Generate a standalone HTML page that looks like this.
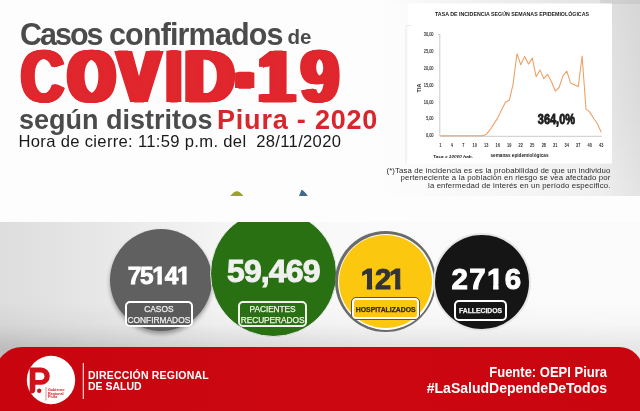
<!DOCTYPE html>
<html><head><meta charset="utf-8">
<style>
*{margin:0;padding:0;box-sizing:border-box}
html,body{width:640px;height:411px;overflow:hidden;background:#fdfdfd}
body{position:relative;font-family:"Liberation Sans",sans-serif}
.abs{position:absolute}
#chartbg{left:380px;top:0;width:260px;height:196px;background:linear-gradient(90deg,#fdfdfd 0%,#f7f7f7 45%,#efefef 85%,#e3e3e3 100%)}
#chartbg3{left:600px;top:0;width:40px;height:196px;background:linear-gradient(180deg,rgba(0,0,0,0.06) 0%,rgba(0,0,0,0.03) 60%,rgba(0,0,0,0) 100%)}
#chartbg2{left:380px;top:0;width:260px;height:4px;background:linear-gradient(90deg,rgba(0,0,0,0),rgba(0,0,0,0.04) 50%,rgba(0,0,0,0.06))}
.t{white-space:nowrap;line-height:1}
.h1{left:20px;top:19px;font-weight:bold;color:#4b4b4b;font-size:30.5px;letter-spacing:-2px}
.de{left:287.5px;top:27px;font-weight:bold;color:#4b4b4b;font-size:20.5px}
.covid{left:0;top:39.8px;width:400px;height:70px}
.cv{position:absolute;top:0;font-weight:bold;color:#e0272d;font-size:73.5px;line-height:1;-webkit-text-stroke:1px #e0272d;transform-origin:0 0;white-space:nowrap}
.seg{top:107px;font-weight:bold;color:#4b4b4b;font-size:27px}
.red2{color:#d9262c}
.hora{left:18.5px;top:134px;color:#1a1a1a;font-size:16.6px;letter-spacing:0.32px}
.foot{left:370px;top:167px;width:240.5px;text-align:right;font-size:7.8px;line-height:7.3px;letter-spacing:0.13px;color:#2a2a2a}
/* lower */
#lower{left:0;top:222px;width:640px;height:140px;overflow:hidden}
#band{left:0;top:0;width:640px;height:140px;background:linear-gradient(90deg,#dddddd 0%,#e9e9e9 18%,#f5f5f5 35%,#fafafa 60%,#fbfbfb 100%)}
#band2{left:0;top:80px;width:640px;height:60px;background:linear-gradient(180deg,rgba(0,0,0,0) 0%,rgba(0,0,0,0.03) 37%,rgba(0,0,0,0.14) 75%,rgba(0,0,0,0.14) 100%);-webkit-mask-image:linear-gradient(90deg,#000 0%,rgba(0,0,0,0.75) 50%,rgba(0,0,0,0.55) 100%)}
.circ{border-radius:50%}
.num{position:absolute;left:0;width:100%;text-align:center;font-weight:bold;color:#fff;white-space:nowrap;line-height:1}
.lab{position:absolute;border:2px solid #fff;border-radius:5px;color:#fff;font-size:8.5px;text-align:center;line-height:10px;white-space:nowrap;-webkit-text-stroke:0.25px currentColor}
#red{left:-5px;top:347px;width:648px;height:70px;background:linear-gradient(90deg,#c8050f 0%,#cc0711 50%,#c9050f 100%);border-radius:27px 24px 0 0}
.n1{display:inline-block;clip-path:polygon(0 0,100% 0,100% 0.69em,0.39em 0.69em,0.39em 100%,0.21em 100%,0.21em 0.69em,0 0.69em)}
.ftxt{color:#fff;font-weight:bold;white-space:nowrap;line-height:1}
</style></head><body>
<div id="chartbg" class="abs"></div>
<div id="chartbg2" class="abs"></div>
<div id="chartbg3" class="abs"></div>

<div class="abs t h1">Casos</div>
<div class="abs t h1" style="left:109px;letter-spacing:-0.85px">confirmados</div>
<div class="abs t de">de</div>
<div class="abs covid">
<span class="cv" style="left:21.30px;transform:scaleX(0.8056);text-shadow:0.88px 0 0 #e0272d,1.75px 0 0 #e0272d,2.62px 0 0 #e0272d,3.50px 0 0 #e0272d,-0.88px 0 0 #e0272d,-1.75px 0 0 #e0272d,-2.62px 0 0 #e0272d,-3.50px 0 0 #e0272d">C</span>
<span class="cv" style="left:68.67px;transform:scaleX(0.7889);text-shadow:1.00px 0 0 #e0272d,2.00px 0 0 #e0272d,3.00px 0 0 #e0272d,4.00px 0 0 #e0272d,5.00px 0 0 #e0272d,6.00px 0 0 #e0272d,-1.00px 0 0 #e0272d,-2.00px 0 0 #e0272d,-3.00px 0 0 #e0272d,-4.00px 0 0 #e0272d,-5.00px 0 0 #e0272d,-6.00px 0 0 #e0272d">O</span>
<span class="cv" style="left:118.22px;transform:scaleX(0.8544);text-shadow:1.00px 0 0 #e0272d,2.00px 0 0 #e0272d,3.00px 0 0 #e0272d,4.00px 0 0 #e0272d,5.00px 0 0 #e0272d,-1.00px 0 0 #e0272d,-2.00px 0 0 #e0272d,-3.00px 0 0 #e0272d,-4.00px 0 0 #e0272d,-5.00px 0 0 #e0272d">V</span>
<span class="cv" style="left:166.97px;transform:scaleX(0.6682);text-shadow:1.00px 0 0 #e0272d,2.00px 0 0 #e0272d,3.00px 0 0 #e0272d,4.00px 0 0 #e0272d,5.00px 0 0 #e0272d,6.00px 0 0 #e0272d,-1.00px 0 0 #e0272d,-2.00px 0 0 #e0272d,-3.00px 0 0 #e0272d,-4.00px 0 0 #e0272d,-5.00px 0 0 #e0272d,-6.00px 0 0 #e0272d">I</span>
<span class="cv" style="left:185.00px;transform:scaleX(0.9185);text-shadow:0.90px 0 0 #e0272d,1.80px 0 0 #e0272d,2.70px 0 0 #e0272d,3.60px 0 0 #e0272d,4.50px 0 0 #e0272d,-0.90px 0 0 #e0272d,-1.80px 0 0 #e0272d,-2.70px 0 0 #e0272d,-3.60px 0 0 #e0272d,-4.50px 0 0 #e0272d">D</span>
<span class="cv" style="left:237.30px;top:-32.9px;transform:scale(0.6323,1.73);text-shadow:1.00px 0 0 #e0272d,2.00px 0 0 #e0272d,3.00px 0 0 #e0272d,4.00px 0 0 #e0272d,5.00px 0 0 #e0272d,6.00px 0 0 #e0272d,-1.00px 0 0 #e0272d,-2.00px 0 0 #e0272d,-3.00px 0 0 #e0272d,-4.00px 0 0 #e0272d,-5.00px 0 0 #e0272d,-6.00px 0 0 #e0272d">-</span>
<span class="cv" style="left:258.70px;transform:scaleX(0.8568);text-shadow:1.00px 0 0 #e0272d,2.00px 0 0 #e0272d,3.00px 0 0 #e0272d,4.00px 0 0 #e0272d,5.00px 0 0 #e0272d,-1.00px 0 0 #e0272d,-2.00px 0 0 #e0272d,-3.00px 0 0 #e0272d,-4.00px 0 0 #e0272d,-5.00px 0 0 #e0272d">1</span>
<span class="cv" style="left:300.73px;transform:scaleX(0.9279);text-shadow:0.88px 0 0 #e0272d,1.75px 0 0 #e0272d,2.62px 0 0 #e0272d,3.50px 0 0 #e0272d,-0.88px 0 0 #e0272d,-1.75px 0 0 #e0272d,-2.62px 0 0 #e0272d,-3.50px 0 0 #e0272d">9</span>
</div>
<div class="abs t seg" style="left:19px">según distritos</div>
<div class="abs t seg red2" style="left:217px;letter-spacing:0.8px">Piura - 2020</div>
<div class="abs t hora">Hora de cierre: 11:59 p.m. del&nbsp; 28/11/2020</div>

<svg class="abs" style="left:0;top:0" width="640" height="222" viewBox="0 0 640 222">
<rect x="408.5" y="3.5" width="203.5" height="160" fill="#fff"/>
<path d="M406 163 V25.5 H412" fill="none" stroke="#ebebeb" stroke-width="1"/>
<text x="512" y="16" font-family="'Liberation Sans', sans-serif" font-weight="bold" font-size="5.3" fill="#1a1a1a" text-anchor="middle" textLength="154" lengthAdjust="spacingAndGlyphs">TASA DE INCIDENCIA SEGÚN SEMANAS EPIDEMIOLÓGICAS</text>
<g font-family="'Liberation Sans', sans-serif" font-size="4.6" fill="#3a3a3a" text-anchor="end" stroke="#3a3a3a" stroke-width="0.15" transform="translate(433.5 0) scale(0.85 1) translate(-433.5 0)"><text x="433.5" y="137.4">0,00</text><text x="433.5" y="120.5">5,00</text><text x="433.5" y="103.6">10,00</text><text x="433.5" y="86.7">15,00</text><text x="433.5" y="69.8">20,00</text><text x="433.5" y="52.9">25,00</text><text x="433.5" y="36.0">30,00</text></g>
<line x1="439.8" y1="34" x2="439.8" y2="136" stroke="#bdbdbd" stroke-width="0.8"/>
<line x1="438" y1="34.5" x2="439.8" y2="34.5" stroke="#bdbdbd" stroke-width="0.6"/>
<line x1="439.8" y1="136.3" x2="602" y2="136.3" stroke="#c4c4c4" stroke-width="0.9"/>
<g font-family="'Liberation Sans', sans-serif" font-weight="bold" font-size="4.9" fill="#333" text-anchor="middle" transform="scale(0.8 1)"><text x="550.38" y="147.2">1</text><text x="564.75" y="147.2">4</text><text x="579.12" y="147.2">7</text><text x="593.50" y="147.2">10</text><text x="607.88" y="147.2">13</text><text x="622.25" y="147.2">16</text><text x="636.62" y="147.2">19</text><text x="651.00" y="147.2">22</text><text x="665.37" y="147.2">25</text><text x="679.75" y="147.2">28</text><text x="694.12" y="147.2">31</text><text x="708.50" y="147.2">34</text><text x="722.87" y="147.2">37</text><text x="737.25" y="147.2">40</text><text x="751.62" y="147.2">43</text></g>
<text transform="translate(421,88) rotate(-90)" font-family="'Liberation Sans', sans-serif" font-weight="bold" font-size="5.5" fill="#222" text-anchor="middle">TIA</text>
<text x="433" y="158" font-family="'Liberation Sans', sans-serif" font-weight="bold" font-style="italic" font-size="4.3" fill="#222" textLength="40" lengthAdjust="spacingAndGlyphs">Tasa x 10000 hab.</text>
<text x="490.5" y="156.8" font-family="'Liberation Sans', sans-serif" font-weight="bold" font-size="5" fill="#222" textLength="58" lengthAdjust="spacingAndGlyphs">semanas epidemiológicas</text>
<polyline fill="none" stroke="#ee9e62" stroke-width="1.05" stroke-linejoin="round" points="440.3,135.8 444.1,135.8 448.0,135.8 451.8,135.8 455.6,135.8 459.5,135.8 463.3,135.8 467.1,135.8 471.0,135.8 474.8,135.8 478.6,135.8 482.5,135.8 486.3,134.4 490.1,129.7 494.0,123.6 497.8,117.9 501.6,109.8 505.5,102.3 509.3,100.3 513.1,84.1 517.0,53.7 520.8,64.8 524.6,56.4 528.5,64.1 532.3,58.1 536.1,76.7 540.0,69.9 543.8,78.7 547.6,74.3 551.5,81.7 555.3,91.2 559.1,87.5 563.0,75.6 566.8,71.2 570.6,83.1 574.5,84.8 578.3,86.5 582.1,56.0 586.0,109.1 589.8,112.1 593.6,118.2 597.5,124.0 601.3,132.4"/>
<text x="537.8" y="124" font-family="'Liberation Sans', sans-serif" font-weight="bold" font-size="14" fill="#1e1e1e" textLength="37.2" lengthAdjust="spacingAndGlyphs" stroke="#1e1e1e" stroke-width="0.9">364,0%</text>
</svg>
<svg class="abs" style="left:225px;top:185px" width="90" height="15" viewBox="225 185 90 15"><path d="M230.2,196 Q234,191.5 236.8,191.3 Q240,191.5 243.4,196 Z" fill="#9ba12a"/><path d="M299,196 L301.5,189.8 Q303.5,190 307.8,196 Z" fill="#3f6a8c"/></svg>
<div class="abs t foot">(*)Tasa de incidencia es es la probabilidad de que un individuo<br>perteneciente a la población en riesgo se vea afectado por<br>la enfermedad de interés en un período específico.</div>

<div id="lower" class="abs">
<div id="band" class="abs"></div>
<div id="band2" class="abs"></div>

<div class="abs circ" style="left:109.5px;top:6.5px;width:102px;height:102px;background:#606060;box-shadow:0 3px 4px rgba(0,0,0,0.35)"></div>
<div class="abs num" style="left:107.5px;width:102px;top:42px;font-size:24.5px;letter-spacing:-1.3px;-webkit-text-stroke:0.8px #fff">75<span class="n1">1</span>4<span class="n1">1</span></div>
<div class="abs lab" style="left:124.7px;top:79.4px;width:68.3px;height:26px;background:#5a5a5a;padding-top:0.5px;color:#eee;font-size:8.4px;line-height:11px">CASOS<br>CONFIRMADOS</div>

<div class="abs circ" style="left:209.8px;top:-12px;width:127px;height:127px;background:#287012;border:1.5px solid #e4e4e4"></div>
<div class="abs num" style="left:209.8px;width:127px;top:33px;font-size:32px;letter-spacing:-0.9px;color:#f0f0f0;-webkit-text-stroke:1px #f0f0f0">59,469</div>
<div class="abs lab" style="left:238.2px;top:78.9px;width:68.8px;height:26.5px;padding-top:1.3px;color:#f2f2ea;border-color:#f2f2ea;font-size:8.4px;line-height:11px;letter-spacing:-0.1px">PACIENTES<br>RECUPERADOS</div>

<div class="abs circ" style="left:335px;top:9px;width:101px;height:101px;background:#6b6b6b"></div>
<div class="abs circ" style="left:337.5px;top:11.5px;width:96px;height:96px;background:#fff"></div>
<div class="abs circ" style="left:338.6px;top:12.6px;width:93.8px;height:93.8px;background:#fcc80f"></div>
<div class="abs num" style="left:331.5px;width:101px;top:43px;font-size:29px;letter-spacing:-2px;color:#333;-webkit-text-stroke:1px #333"><span class="n1">1</span>2<span class="n1">1</span></div>
<div class="abs lab" style="left:351.4px;top:75.4px;width:68.6px;height:22.2px;border:1.8px solid #555;box-shadow:inset 0 0 0 2px #fff;background:#fcc80f;color:#2a2a2a;font-size:6.9px;letter-spacing:-0.05px;line-height:18.6px;padding-top:2.8px;font-weight:bold">HOSPITALIZADOS</div>

<div class="abs circ" style="left:433.3px;top:10.6px;width:98px;height:98px;background:#151515;border:2px solid #e6e6e6"></div>
<div class="abs num" style="left:438px;width:98px;top:42px;font-size:29.5px;letter-spacing:1.3px;-webkit-text-stroke:1px #fff">27<span class="n1">1</span>6</div>
<div class="abs lab" style="left:454px;top:78.3px;width:53px;height:21px;font-size:6.8px;line-height:17px;font-weight:bold;color:#f4f4f4;border-width:2px">FALLECIDOS</div>
</div>

<div id="red" class="abs"></div>
<!-- logo -->
<svg class="abs" style="left:0;top:347px" width="640" height="64" viewBox="0 347 640 64">
<circle cx="51" cy="380" r="24.2" fill="#fff"/>
<path d="M29.7,367.6 H41.2 A8.55,8.55 0 0 1 41.2,384.7 H35.3 V389.5 Q35.3,393.6 31.2,393.6 H29.7 Z" fill="#d0121b"/>
<path d="M35.4,372.4 H40.6 A3.8,3.8 0 0 1 40.6,380 H35.4 Z" fill="#fff"/>
<circle cx="39.2" cy="390.8" r="2.2" fill="#d0121b"/>
<line x1="46" y1="387" x2="46" y2="400.4" stroke="#d0141d" stroke-width="0.5"/>
<g font-family="'Liberation Sans', sans-serif" font-weight="bold" font-size="3.7" fill="#d0141d"><text x="48" y="391">Gobierno</text><text x="48" y="394.6">Regional</text><text x="48" y="398.2">Piura</text></g>
<rect x="82.7" y="363" width="1.3" height="36" fill="#f4c9cb"/>
</svg>
<div class="abs ftxt" style="left:88px;top:370px;font-size:10.5px;letter-spacing:0.2px">DIRECCIÓN REGIONAL</div>
<div class="abs ftxt" style="left:88px;top:381px;font-size:10.5px">DE SALUD</div>
<div class="abs ftxt" style="right:33px;top:364.5px;font-size:13px;text-align:right;transform:scaleY(1.08);transform-origin:100% 0">Fuente: OEPI Piura</div>
<div class="abs ftxt" style="right:33px;top:381px;font-size:14px;text-align:right">#LaSaludDependeDeTodos</div>
</body></html>
